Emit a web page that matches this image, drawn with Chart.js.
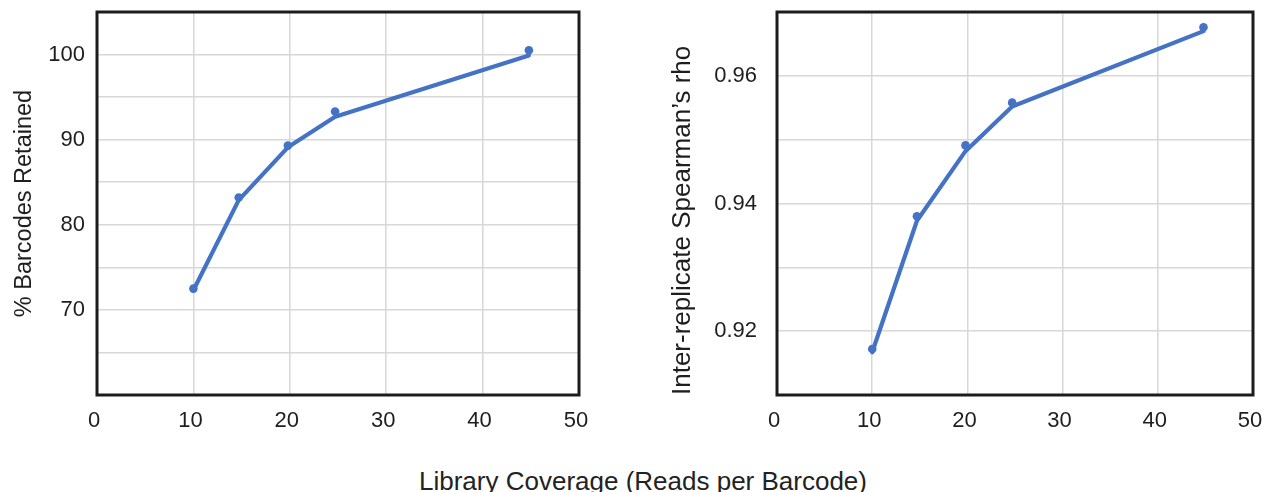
<!DOCTYPE html>
<html>
<head>
<meta charset="utf-8">
<script src="https://cdn.jsdelivr.net/npm/chart.js@4.4.1/dist/chart.umd.min.js"></script>
<style>
  html, body { margin: 0; padding: 0; background: #fff; }
  #wrap { position: relative; width: 1262px; height: 492px; overflow: hidden; background: #fff; }
  .panel { position: absolute; top: 0; height: 440px; }
  #xtitle { position: absolute; left: 0; top: 466px; width: 1286px; text-align: center;
            font-family: "Liberation Sans", Arial, Helvetica, sans-serif; font-size: 26px; line-height: 30px; color: #222; white-space: nowrap; }
</style>
</head>
<body>
<div id="wrap">
  <div class="panel" style="left:0;width:610px;"><canvas id="c1"></canvas></div>
  <div class="panel" style="left:640px;width:622px;"><canvas id="c2"></canvas></div>
  <div id="xtitle">Library Coverage (Reads per Barcode)</div>
</div>
<script>
// ---- data ----
const coverage = [10, 14.7, 19.8, 24.7, 44.8];
const retainedLine = [72.3, 82.9, 89.1, 92.7, 99.9];
const retainedDots = [72.5, 83.2, 89.3, 93.3, 100.5];
const rhoLine = [0.9167, 0.9373, 0.9482, 0.9552, 0.9670];
const rhoDots = [0.9172, 0.9380, 0.9491, 0.9558, 0.9676];
const xTickLabels = [0, 10, 20, 30, 40, 50];
const leftTickLabels = [70, 80, 90, 100];
const rightTickLabels = ['0.92', '0.94', '0.96'];
const leftTitle = '% Barcodes Retained';
const rightTitle = 'Inter-replicate Spearman\u2019s rho';

const BLUE = '#4472C4';
const GRID = '#d8d8d8';
const INK = '#1e1e1e';
Chart.defaults.font.family = '"Liberation Sans", Arial, Helvetica, sans-serif';
Chart.defaults.color = INK;

const frame = {
  id: 'frame',
  afterDatasetsDraw(chart) {
    const a = chart.chartArea, ctx = chart.ctx;
    ctx.save();
    ctx.strokeStyle = '#1c1c1c';
    ctx.lineWidth = 3;
    ctx.strokeRect(a.left, a.top, a.right - a.left, a.bottom - a.top);
    ctx.restore();
  }
};

function pts(xs, ys) { return xs.map((x, i) => ({x: x, y: ys[i]})); }

function makeChart(id, lineVals, dotVals, yOpts, axisW, rightPad, tickPad, title, titleSize, titlePad, titleAlign) {
  return new Chart(document.getElementById(id), {
    type: 'scatter',
    data: {
      datasets: [
        { data: pts(coverage, lineVals), showLine: true, borderColor: BLUE, borderWidth: 4.2,
          pointRadius: 0, borderCapStyle: 'round', borderJoinStyle: 'round', order: 2 },
        { data: pts(coverage, dotVals), showLine: false, backgroundColor: BLUE, borderColor: BLUE,
          pointRadius: 4.3, borderWidth: 0, order: 1 }
      ]
    },
    options: {
      responsive: true, maintainAspectRatio: false, animation: false,
      layout: { padding: { left: 0, top: 12, right: rightPad, bottom: 0 } },
      plugins: { legend: { display: false }, tooltip: { enabled: false } },
      scales: {
        x: {
          type: 'linear', min: 0, max: 50,
          afterBuildTicks: s => { s.ticks = xTickLabels.map(v => ({value: v})); },
          ticks: { font: { size: 22 }, padding: 13, labelOffset: -3, maxRotation: 0, color: INK },
          grid: { color: GRID, lineWidth: 1.5, drawTicks: false },
          border: { display: false },
          afterFit: s => { s.height = 45; s.paddingLeft = 0; s.paddingRight = 0; }
        },
        y: yOpts(axisW, tickPad, title, titleSize, titlePad, titleAlign)
      }
    },
    plugins: [frame]
  });
}

function leftY(axisW, tickPad, title, titleSize, titlePad, titleAlign) {
  return {
    type: 'linear', min: 60, max: 105,
    ticks: { stepSize: 5, font: { size: 22 }, padding: tickPad, color: INK,
             callback: v => leftTickLabels.includes(v) ? String(v) : '' },
    grid: { color: GRID, lineWidth: 1.5, drawTicks: false },
    border: { display: false },
    title: { display: true, text: title, align: titleAlign, font: { size: titleSize }, padding: titlePad, color: INK },
    afterFit: s => { s.width = axisW; s.paddingTop = 0; s.paddingBottom = 0; }
  };
}
function rightY(axisW, tickPad, title, titleSize, titlePad, titleAlign) {
  return {
    type: 'linear', min: 0.91, max: 0.97,
    ticks: { stepSize: 0.01, font: { size: 22 }, padding: tickPad, color: INK,
             callback: v => { const s = (Math.round(v * 100) / 100).toFixed(2); return rightTickLabels.includes(s) ? s : ''; } },
    grid: { color: GRID, lineWidth: 1.5, drawTicks: false },
    border: { display: false },
    title: { display: true, text: title, align: titleAlign, font: { size: titleSize }, padding: titlePad, color: INK },
    afterFit: s => { s.width = axisW; s.paddingTop = 0; s.paddingBottom = 0; }
  };
}

makeChart('c1', retainedLine, retainedDots, leftY, 97, 31, 12, leftTitle, 23.5, 10, 'center');
makeChart('c2', rhoLine, rhoDots, rightY, 137, 9, 20, rightTitle, 26, 27.5, 'start');
</script>
</body>
</html>
